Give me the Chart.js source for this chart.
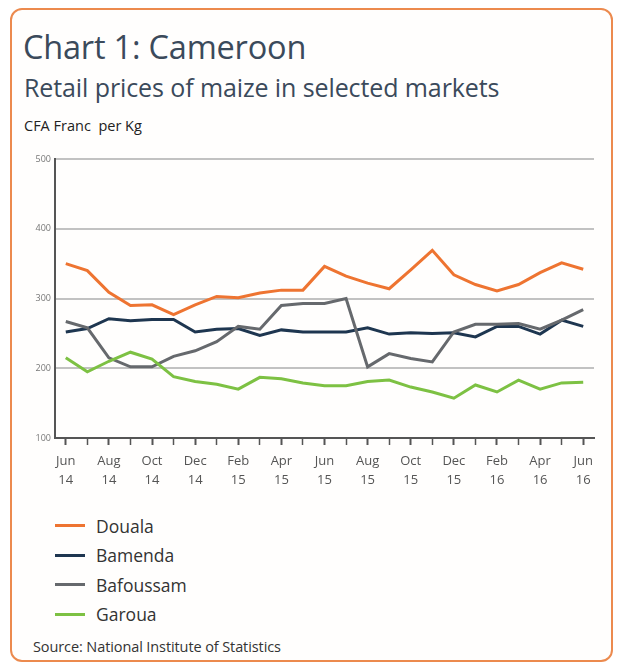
<!DOCTYPE html>
<html lang="en">

<head>
    <meta charset="UTF-8">
    <title>Chart 1: Cameroon</title>
    <script src="https://cdn.jsdelivr.net/npm/chart.js"></script>
    <style>
        body {
            margin: 0;
            background: #ffffff;
            font-family: "Open Sans", sans-serif;
        }

        .card {
            position: absolute;
            left: 10px;
            top: 8px;
            width: 599px;
            height: 650px;
            border: 2.5px solid #ec8a4e;
            border-radius: 12px;
            background: #fffefd;
        }

        .titol {
            position: absolute;
            left: 11px;
            top: 14px;
            margin: 0;
            font-size: 32.5px;
            font-weight: 400;
            color: #3b4a5b;
            letter-spacing: -0.2px;
        }

        .subtitol {
            position: absolute;
            left: 12px;
            top: 60px;
            margin: 0;
            font-size: 25px;
            font-weight: 400;
            color: #3b4a5b;
            letter-spacing: -0.1px;
        }

        .unitat {
            position: absolute;
            left: 12px;
            top: 106px;
            font-size: 14.5px;
            color: #222;
        }

        .chart-box {
            position: absolute;
            left: 12px;
            top: 145px;
            width: 598px;
            height: 355px;
        }

        .llegenda {
            position: absolute;
            left: 55px;
            top: 511px;
        }

        .llegenda div {
            height: 29.5px;
            display: flex;
            align-items: center;
            font-size: 17.5px;
            color: #333;
        }

        .llegenda span.linia {
            display: inline-block;
            width: 30px;
            height: 3px;
            margin-right: 11px;
        }

        .font {
            position: absolute;
            left: 33px;
            top: 637px;
            font-size: 14.5px;
            color: #333;
            letter-spacing: -0.1px;
        }
    </style>
</head>

<body>
    <div class="card">
        <h1 class="titol">Chart 1: Cameroon</h1>
        <h2 class="subtitol">Retail prices of maize in selected markets</h2>
        <div class="unitat">CFA Franc&nbsp; per Kg</div>
    </div>
    <div class="chart-box">
        <canvas id="maizeChart"></canvas>
    </div>
    <div class="llegenda" id="llegenda"></div>
    <div class="font">Source: National Institute of Statistics</div>

    <script>
        // mesos de Jun 14 a Jun 16
        const mesos = ['Jun', 'Jul', 'Aug', 'Sep', 'Oct', 'Nov', 'Dec', 'Jan', 'Feb', 'Mar', 'Apr', 'May',
            'Jun', 'Jul', 'Aug', 'Sep', 'Oct', 'Nov', 'Dec', 'Jan', 'Feb', 'Mar', 'Apr', 'May', 'Jun'];
        const anys = ['14', '14', '14', '14', '14', '14', '14', '15', '15', '15', '15', '15',
            '15', '15', '15', '15', '15', '15', '15', '16', '16', '16', '16', '16', '16'];

        const douala = [350, 340, 309, 290, 291, 277, 291, 303, 301, 308, 312, 312,
            346, 332, 322, 314, 341, 369, 334, 320, 311, 320, 337, 351, 342];
        const bamenda = [252, 257, 271, 268, 270, 270, 252, 256, 257, 247, 255, 252,
            252, 252, 258, 249, 251, 250, 251, 245, 260, 260, 249, 269, 260];
        const bafoussam = [267, 258, 215, 202, 202, 217, 225, 238, 260, 256, 290, 293,
            293, 300, 202, 221, 214, 209, 252, 263, 263, 264, 256, 269, 284];
        const garoua = [215, 195, 210, 223, 213, 188, 181, 177, 170, 187, 185, 179,
            175, 175, 181, 183, 173, 166, 157, 176, 166, 183, 170, 179, 180];

        const yTicks = [100, 200, 300, 400, 500];

        const series = [
            { nom: 'Douala', dades: douala, color: '#ee7431' },
            { nom: 'Bamenda', dades: bamenda, color: '#1e3650' },
            { nom: 'Bafoussam', dades: bafoussam, color: '#66696d' },
            { nom: 'Garoua', dades: garoua, color: '#7dc143' }
        ];

        const labels = mesos.map((m, i) => [m, anys[i]]);

        const ctx = document.getElementById('maizeChart').getContext('2d');
        const chart = new Chart(ctx, {
            type: 'line',
            data: {
                labels: labels,
                datasets: series.map(s => ({
                    label: s.nom,
                    data: s.dades,
                    borderColor: s.color,
                    backgroundColor: s.color,
                    borderWidth: 3,
                    pointRadius: 0,
                    tension: 0
                })).reverse()
            },
            options: {
                responsive: true,
                maintainAspectRatio: false,
                animation: false,
                layout: {
                    padding: { top: 14, right: 16, bottom: 0, left: 0 }
                },
                plugins: {
                    legend: { display: false },
                    tooltip: { enabled: false }
                },
                scales: {
                    x: {
                        offset: true,
                        afterFit: (scale) => { scale.height = 62; },
                        border: { color: '#555', width: 2 },
                        grid: {
                            drawOnChartArea: false,
                            tickLength: 7,
                            tickColor: '#555',
                            tickWidth: (c) => (c.index % 2 === 0 ? 2 : 1.5)
                        },
                        ticks: {
                            autoSkip: false,
                            maxRotation: 0,
                            padding: 7,
                            color: '#555',
                            font: { family: 'Open Sans', size: 13, lineHeight: 1.45 },
                            callback: function (value, index) {
                                return index % 2 === 0 ? labels[index] : '';
                            }
                        }
                    },
                    y: {
                        min: yTicks[0],
                        max: yTicks[yTicks.length - 1],
                        afterFit: (scale) => { scale.width = 43; },
                        afterBuildTicks: (scale) => {
                            scale.ticks = yTicks.map(v => ({ value: v }));
                        },
                        border: { color: '#555', width: 2 },
                        grid: {
                            drawTicks: false,
                            color: '#c2c2c2',
                            lineWidth: 2
                        },
                        ticks: {
                            padding: 4,
                            color: '#777',
                            font: { family: 'Open Sans', size: 9 }
                        }
                    }
                }
            }
        });

        // llegenda vertical
        const llegenda = document.getElementById('llegenda');
        series.forEach(s => {
            const fila = document.createElement('div');
            fila.innerHTML = '<span class="linia" style="background:' + s.color + '"></span>' + s.nom;
            llegenda.appendChild(fila);
        });
    </script>
</body>

</html>
